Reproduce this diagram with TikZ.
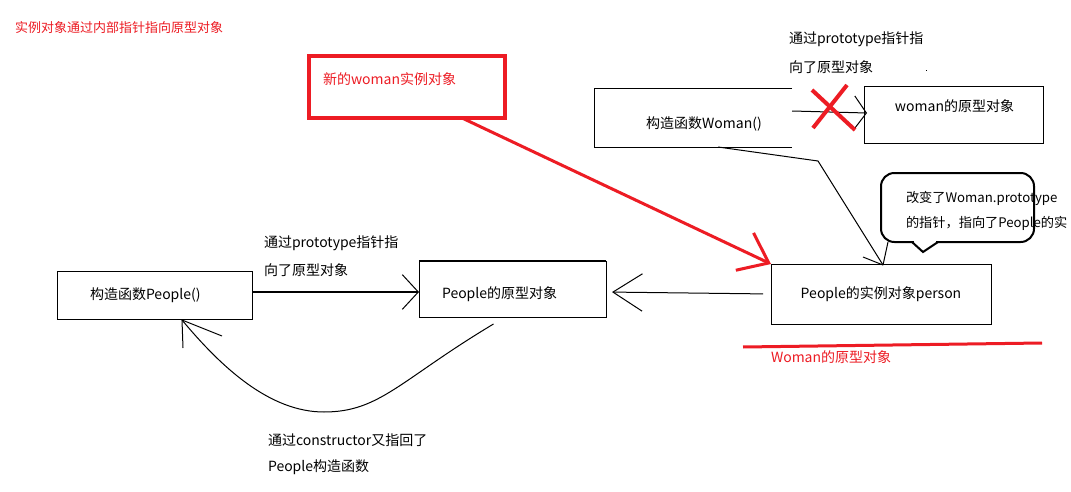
\documentclass[tikz,border=0pt]{standalone}
\usepackage{fontspec}
\setmainfont{Noto Sans CJK SC}
\usetikzlibrary{arrows.meta,calc}
\definecolor{pred}{HTML}{ED1C24}
\begin{document}
\begin{tikzpicture}[x=0.75pt,y=-0.75pt,
  every node/.style={font=\fontsize{10.5pt}{12pt}\selectfont, inner sep=0pt, outer sep=0pt},
  box/.style={draw, line width=0.75pt},
  lbl/.style={anchor=west},
  redlbl/.style={anchor=west, text=pred},
  thinline/.style={line width=0.75pt},
  barb/.style={-{Straight Barb[line width=0.75pt,#1]}},
  barb/.default={length=12pt,width=26pt}]
\useasboundingbox (0,0) rectangle (1071,492);
\fill[white] (0,0) rectangle (1071,492);

% heading
\node[redlbl, font=\fontsize{9.75pt}{11pt}\selectfont] (head) at (15,28) {实例对象通过内部指针指向原型对象};

% red box
\node[draw=pred, line width=3pt, minimum width=147pt, minimum height=46.5pt] (rb) at (407,87) {};
\node[redlbl] (rbt) at (323,79) {新的woman实例对象};

% Woman constructor (open on the right)
\node[minimum width=148.5pt, minimum height=43.5pt] (wc) at (693,118) {};
\draw[thinline] (wc.north east) -- (wc.north west) -- (wc.south west) -- (wc.south east);
\node (wct) at (704,124) {构造函数Woman()};

% woman prototype
\node[box, minimum width=134.25pt, minimum height=42pt] (wp) at (953.5,115) {};
\node (wpt) at (954.5,106) {woman的原型对象};

\node[lbl] (tw1) at (789,39) {通过prototype指针指};
\node[lbl] (tw2) at (789,67) {向了原型对象};
\fill (925.5,70.5) rectangle (926.5,71.5);

% People constructor
\node[box, minimum width=146.25pt, minimum height=36pt] (pc) at (154.5,295) {};
\node[lbl] (pct) at (90,295) {构造函数People()};

% People prototype
\node[box, minimum width=140.25pt, minimum height=42pt] (pp) at (512.5,289) {};
\draw[line width=1.5pt] (pp.north west) -- (pp.north east);
\node[lbl] (ppt) at (442,294) {People的原型对象};

% People instance
\node[box, minimum width=165pt, minimum height=45pt] (ps) at (881,294) {People的实例对象person};

% callout
\node[draw, line width=1.5pt, rounded corners=10pt, minimum width=114.75pt, minimum height=51.75pt] (co) at (957.5,207.5) {};
\fill[white] (914,239) rectangle (936,246);
\draw[line width=1.5pt] (912,242) -- (923,252) -- (938,242);
\node[lbl, font=\fontsize{9.9pt}{11pt}\selectfont] (cot1) at (906,198) {改变了Woman.prototype};
\node[lbl, font=\fontsize{9.9pt}{11pt}\selectfont] (cot2) at (906,223) {的指针，指向了People的实};

% labels
\node[lbl] (tp1) at (264,243) {通过prototype指针指};
\node[lbl] (tp2) at (264,270) {向了原型对象};
\node[lbl] (tc1) at (268,440) {通过constructor又指回了};
\node[lbl] (tc2) at (268,467) {People构造函数};

% red underline + label
\draw[pred, line width=2.25pt] (743,347) -- (1042,343);
\node[redlbl] (wpr) at (771,357) {Woman的原型对象};

% connectors
\draw[line width=1.5pt, barb] ([yshift=2.25pt]pc.east) -- ([yshift=-2.25pt]pp.west);
\draw[thinline, barb={length=22pt,width=28pt}, shorten >=4.5pt, shorten <=6pt] (ps.west) -- ([yshift=-2.25pt]pp.east);

\coordinate (ctip) at ($(pc.south)+(27.5,1)$);
\draw[thinline] ($(pp.south)+(-19,7)$) .. controls (400,380) and (380,412) .. (324,412)
  .. controls (270,412) and (222,368) .. (ctip);
\draw[thinline] (ctip) -- ++(40,16);
\draw[thinline] (ctip) -- ++(1,28);

\draw[pred, line width=2.25pt, -{Straight Barb[line width=2.25pt,length=20pt,width=31pt]}] ($(rb.south)+(55,0)$) -- (ps.north west);

\draw[thinline, barb={length=9pt,width=25pt}] ([yshift=5.25pt]wc.east) -- ([yshift=1.5pt,xshift=2.25pt]wp.west);
\draw[pred, line width=3pt] (812,90) -- (855,130);
\draw[pred, line width=3pt] (847,85) -- (813,128);

\coordinate (ptip) at ($(ps.north)+(2,1)$);
\draw[thinline] ($(wc.south)+(25,0)$) -- (818,161) -- (ptip);
\draw[thinline] (ptip) -- ++(-20,-8);
\draw[thinline] ($(co.south west)+(7,0)$) -- (ptip);
\end{tikzpicture}
\end{document}
